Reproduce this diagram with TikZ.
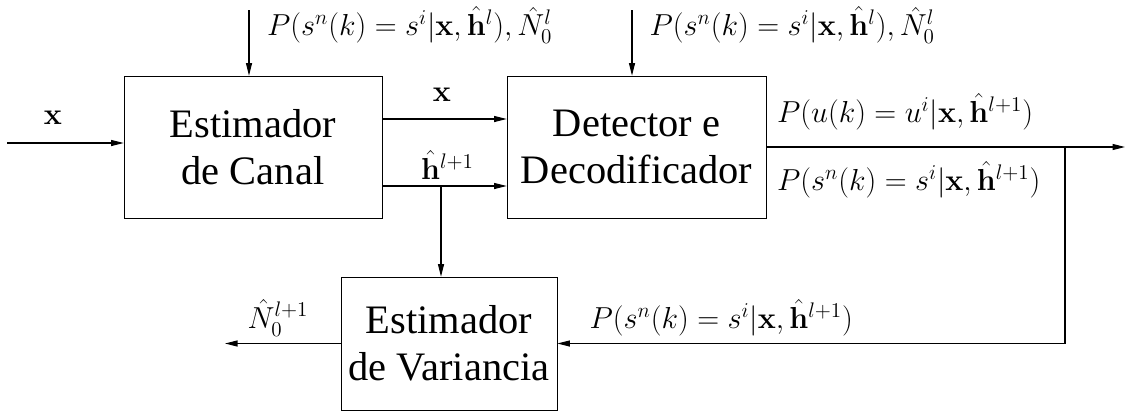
\documentclass[tikz,border=0pt]{standalone}
\usepackage{amsmath,amssymb}
\usepackage[no-math]{fontspec}
\setmainfont{Liberation Serif}
\usetikzlibrary{arrows.meta,positioning,calc}

\begin{document}
\begin{tikzpicture}[
    box/.style={draw, minimum width=5.16cm, minimum height=2.84cm, align=center, font=\fontsize{23}{27}\selectfont, inner sep=0pt},
    arr/.style={-{Triangle[length=0.25cm,width=0.12cm]}, line width=0.6pt},
    lbl/.style={font=\fontsize{17.5}{20}\selectfont, inner sep=1pt}
]
\useasboundingbox (0,0) rectangle (22.5,-8.28);
\node[box] (can) at (5.06,-2.94) {Estimador\\de Canal};
\node[box, minimum width=5.18cm] (det) at (12.73,-2.94) {Detector e\\Decodificador};
\node[box, minimum width=4.32cm, minimum height=2.66cm] (var) at (8.98,-6.87) {Estimador\\de Variancia};

\coordinate (in) at (0.14,-2.86);
\coordinate (tc) at (4.98,-0.2);
\coordinate (td) at (12.64,-0.2);
\coordinate (out) at (22.5,-2.94);
\coordinate (fb) at (21.3,-2.94);
\coordinate (nout) at (4.5,-6.87);
\coordinate (br) at (8.82,-3.72);

\draw[arr] (in) -- (in -| can.west);
\draw[arr] (tc) -- (tc |- can.north);
\draw[arr] (td) -- (td |- det.north);
\draw[arr] (can.east |- 0,-2.38) -- (det.west |- 0,-2.38);
\draw[arr] (can.east |- br) -- (det.west |- br);
\draw[arr] (br) -- (br |- var.north);
\draw[arr] (det.east) -- (out);
\draw[arr] (fb) |- (var.east);
\draw[arr] (var.west) -- (nout);

\node[lbl] (lx) at (1.06,-2.36) {$\mathbf{x}$};
\node[lbl] (lxm) at (8.84,-1.9) {$\mathbf{x}$};
\node[lbl] (lh) at (8.95,-3.3) {$\hat{\mathbf{h}}^{l+1}$};
\node[lbl, anchor=west] (ltc) at (5.3,-0.5) {$P(s^n(k)=s^i|\mathbf{x},\hat{\mathbf{h}}^l),\hat{N}_0^l$};
\node[lbl, anchor=west] (ltd) at (12.95,-0.5) {$P(s^n(k)=s^i|\mathbf{x},\hat{\mathbf{h}}^l),\hat{N}_0^l$};
\node[lbl, anchor=west] (lu) at (15.5,-2.24) {$P(u(k)=u^i|\mathbf{x},\hat{\mathbf{h}}^{l+1})$};
\node[lbl, anchor=west] (ls) at (15.5,-3.6) {$P(s^n(k)=s^i|\mathbf{x},\hat{\mathbf{h}}^{l+1})$};
\node[lbl] (ln) at (5.56,-6.36) {$\hat{N}_0^{l+1}$};
\node[lbl, anchor=west] (lf) at (11.75,-6.36) {$P(s^n(k)=s^i|\mathbf{x},\hat{\mathbf{h}}^{l+1})$};
\end{tikzpicture}
\end{document}
